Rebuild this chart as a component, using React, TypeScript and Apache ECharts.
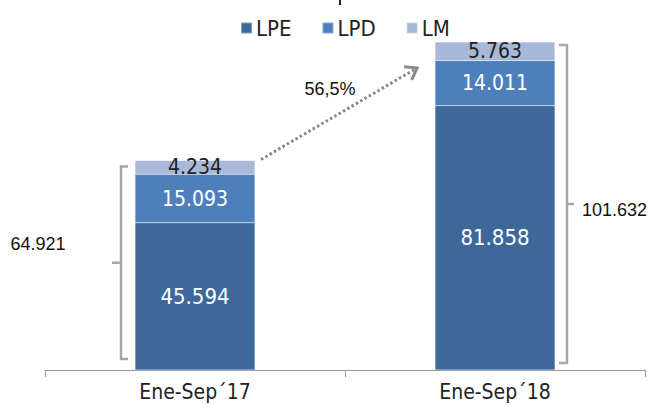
import React, { useEffect, useRef } from "react";
import * as echarts from "echarts";

const categories = ["Ene-Sep´17", "Ene-Sep´18"];
const lpe = [45594, 81858];
const lpd = [15093, 14011];
const lm = [4234, 5763];
const seriesNames = ["LPE", "LPD", "LM"];
const colors = ["#3E6899", "#4D7FBB", "#A8B8D8"];

const fmt = (v: number) => {
  const s = Math.round(v).toString();
  return s.replace(/\B(?=(\d{3})+(?!\d))/g, ".");
};

const NARROW = "'DejaVu Sans Condensed', 'Liberation Sans', sans-serif";
const REG = "'Liberation Sans', Arial, sans-serif";

export default function App() {
  const ref = useRef<HTMLDivElement>(null);
  useEffect(() => {
    if (!ref.current) return;
    const chart = echarts.init(ref.current, undefined, { renderer: "svg" });
    const totals = lpe.map((v, i) => v + lpd[i] + lm[i]);
    const mk = (name: string, data: number[], color: string, labelColor: string, size: number) => ({
      name,
      type: "bar",
      stack: "total",
      barWidth: 120,
      data,
      itemStyle: { color, borderColor: "rgba(255,255,255,0.35)", borderWidth: 0.5 },
      label: {
        show: true,
        position: "inside",
        color: labelColor,
        fontFamily: NARROW,
        fontSize: size,
        formatter: (p: any) => fmt(p.value),
      },
    });
    chart.setOption({
      animation: false,
      color: colors,
      legend: {
        data: seriesNames,
        top: 12,
        left: 235,
        itemWidth: 11,
        itemHeight: 11,
        itemGap: 30,
        icon: "rect",
        textStyle: { fontFamily: NARROW, fontSize: 22, color: "#222", padding: [0, 0, 0, -1] },
      },
      grid: { left: 45, right: 6, top: 15, bottom: 37 },
      xAxis: {
        type: "category",
        data: categories,
        axisLine: { lineStyle: { color: "#999", width: 1 } },
        axisTick: { show: true, length: 7, lineStyle: { color: "#999" } },
        axisLabel: { fontFamily: NARROW, fontSize: 21, color: "#222", margin: 11 },
      },
      yAxis: { type: "value", min: 0, max: 110000, show: false, splitLine: { show: false } },
      series: [
        mk("LPE", lpe, colors[0], "#fff", 22),
        mk("LPD", lpd, colors[1], "#fff", 21),
        mk("LM", lm, colors[2], "#222", 21),
      ],
    });

    const p = (i: number, v: number) => chart.convertToPixel({ gridIndex: 0 }, [i, v]) as number[];
    const base0 = p(0, 0);
    const top0 = p(0, totals[0]);
    const base1 = p(1, 0);
    const top1 = p(1, totals[1]);
    const half = 60;
    const gray = "#A6A6A6";
    const bw = 2.5;

    // left bracket
    const lx = base0[0] - half - 14;
    const lt = top0[1] + 6;
    const lb = base0[1] - 11;
    const lm0 = (lt + lb) / 2;
    // right bracket
    const rx = base1[0] + half + 12;
    const rt = top1[1] + 3;
    const rb = base1[1] - 7;
    const rm = (rt + rb) / 2;

    // arrow
    const ax0 = top0[0] + half + 6;
    const ay0 = top0[1] - 1;
    const ax1 = top1[0] - half - 18;
    const ay1 = top1[1] + 26;
    const ang = Math.atan2(ay1 - ay0, ax1 - ax0);
    const armLen = 13;
    const a1 = ang + Math.PI - 0.62;
    const a2 = ang + Math.PI + 0.62;

    chart.setOption({
      graphic: [
        { type: "rect", shape: { x: 339, y: 0, width: 2, height: 5 }, style: { fill: "#222" } },
        {
          type: "polyline",
          shape: { points: [[lx + 7, lt], [lx, lt], [lx, lb], [lx + 7, lb]] },
          style: { stroke: gray, lineWidth: bw, fill: null },
        },
        { type: "line", shape: { x1: lx - 9, y1: lm0, x2: lx, y2: lm0 }, style: { stroke: gray, lineWidth: bw } },
        {
          type: "polyline",
          shape: { points: [[rx - 8, rt], [rx, rt], [rx, rb], [rx - 8, rb]] },
          style: { stroke: gray, lineWidth: bw, fill: null },
        },
        { type: "line", shape: { x1: rx, y1: rm, x2: rx + 7, y2: rm }, style: { stroke: gray, lineWidth: bw } },
        {
          type: "text",
          x: 38,
          y: lm0 - 19,
          style: { text: fmt(totals[0]), font: `18px ${REG}`, fill: "#111", align: "center", verticalAlign: "middle" },
        },
        {
          type: "text",
          x: rx + 15,
          y: rm + 6,
          style: { text: fmt(totals[1]), font: `18px ${REG}`, fill: "#111", align: "left", verticalAlign: "middle" },
        },
        {
          type: "line",
          shape: { x1: ax0, y1: ay0, x2: ax1, y2: ay1 },
          style: { stroke: "#888", lineWidth: 3, lineDash: [2.5, 2.5] },
        },
        {
          type: "polyline",
          shape: {
            points: [
              [ax1 + armLen * Math.cos(a1), ay1 + armLen * Math.sin(a1)],
              [ax1, ay1],
              [ax1 + armLen * Math.cos(a2), ay1 + armLen * Math.sin(a2)],
            ],
          },
          style: { stroke: "#888", lineWidth: 3, fill: null },
        },
        {
          type: "text",
          x: 330,
          y: 89,
          style: {
            text: ((totals[1] / totals[0] - 1) * 100).toFixed(1).replace(".", ",") + "%",
            font: `18px ${REG}`,
            fill: "#111",
            align: "center",
            verticalAlign: "middle",
          },
        },
      ],
    });
    return () => chart.dispose();
  }, []);
  return <div ref={ref} style={{ width: 651, height: 407, position: "absolute", left: 0, top: 0 }} />;
}
